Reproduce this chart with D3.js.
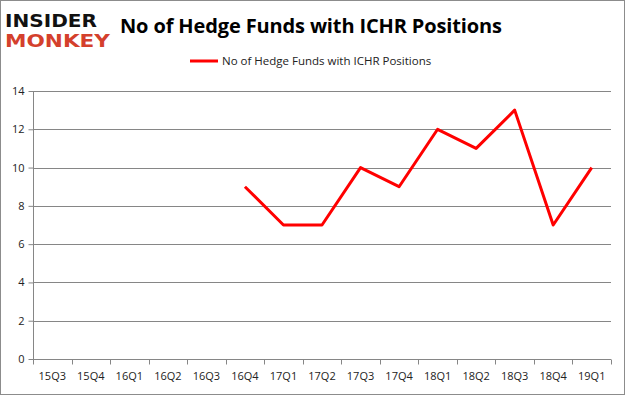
<!DOCTYPE html>
<html>
<head>
<meta charset="utf-8">
<script src="https://cdn.jsdelivr.net/npm/d3@7"></script>
<style>
  body { margin: 0; background: #fff; }
  svg { display: block; font-family: "Open Sans", "DejaVu Sans", sans-serif; }
</style>
</head>
<body>
<div id="chart"></div>
<script>
// chart data
const quarters = ["15Q3", "15Q4", "16Q1", "16Q2", "16Q3", "16Q4", "17Q1", "17Q2",
                  "17Q3", "17Q4", "18Q1", "18Q2", "18Q3", "18Q4", "19Q1"];
const funds = [null, null, null, null, null, 9, 7, 7, 10, 9, 12, 11, 13, 7, 10];
const yTicks = [0, 2, 4, 6, 8, 10, 12, 14];
const title = "No of Hedge Funds with ICHR Positions";

const width = 625, height = 395;
const margin = { top: 91, right: 14, bottom: 36, left: 33 };

const svg = d3.select("#chart").append("svg")
  .attr("width", width)
  .attr("height", height);

// outer frame
svg.append("rect")
  .attr("x", 0.5).attr("y", 0.5)
  .attr("width", width - 1).attr("height", height - 1)
  .attr("fill", "#fff")
  .attr("stroke", "#8c8c8c");

// logo
svg.append("text")
  .attr("x", 5).attr("y", 27)
  .attr("font-family", "DejaVu Sans, sans-serif")
  .attr("font-weight", "bold")
  .attr("font-size", 17)
  .attr("textLength", 92)
  .attr("lengthAdjust", "spacingAndGlyphs")
  .attr("fill", "#111")
  .text("INSIDER");
svg.append("text")
  .attr("x", 5).attr("y", 47)
  .attr("font-family", "DejaVu Sans, sans-serif")
  .attr("font-weight", "bold")
  .attr("font-size", 17)
  .attr("textLength", 105)
  .attr("lengthAdjust", "spacingAndGlyphs")
  .attr("fill", "#d4402c")
  .text("MONKEY");

// title
svg.append("text")
  .attr("x", 120).attr("y", 33)
  .attr("font-family", "Open Sans, sans-serif")
  .attr("font-weight", "bold")
  .attr("font-size", 20)
  .attr("textLength", 382)
  .attr("fill", "#000")
  .text(title);

// legend
const legend = svg.append("g").attr("transform", "translate(190,61)");
legend.append("line")
  .attr("x1", 0).attr("x2", 28)
  .attr("stroke", "#ff0000")
  .attr("stroke-width", 3);
legend.append("text")
  .attr("x", 32).attr("y", 4)
  .attr("font-size", 11.5)
  .attr("fill", "#222")
  .text(title);

const plotW = width - margin.left - margin.right;
const plotH = height - margin.top - margin.bottom;

const x = d3.scaleBand()
  .domain(quarters)
  .range([0, plotW]);

const y = d3.scaleLinear()
  .domain([0, 14])
  .range([plotH, 0]);

const g = svg.append("g")
  .attr("transform", "translate(" + margin.left + "," + margin.top + ")");

// grid lines
g.append("g")
  .selectAll("line")
  .data(yTicks.filter(d => d > 0))
  .enter().append("line")
  .attr("x1", 0).attr("x2", plotW)
  .attr("y1", d => Math.round(y(d)) + 0.5)
  .attr("y2", d => Math.round(y(d)) + 0.5)
  .attr("stroke", "#868686");

// y axis
const yAxis = g.append("g")
  .attr("transform", "translate(0.5,0)")
  .call(d3.axisLeft(y).tickValues(yTicks).tickSize(5).tickPadding(4));
yAxis.selectAll("line, path").attr("stroke", "#868686");
yAxis.selectAll("text").attr("font-size", 11).attr("fill", "#222")
  .attr("font-family", "Open Sans, sans-serif");
yAxis.select(".domain").attr("d", "M0," + plotH + "V0");

// x axis, ticks on band edges
const xAxis = g.append("g")
  .attr("transform", "translate(0," + (Math.round(plotH) + 0.5) + ")")
  .call(d3.axisBottom(x).tickSize(0).tickPadding(13));
xAxis.select(".domain").attr("stroke", "#868686").attr("d", "M0,0H" + plotW);
xAxis.selectAll("text").attr("font-size", 11).attr("fill", "#222")
  .attr("font-family", "Open Sans, sans-serif");
xAxis.append("g")
  .selectAll("line")
  .data(quarters.concat(["end"]))
  .enter().append("line")
  .attr("x1", (d, i) => Math.round(i * x.step()) + 0.5)
  .attr("x2", (d, i) => Math.round(i * x.step()) + 0.5)
  .attr("y1", 0).attr("y2", 5)
  .attr("stroke", "#868686");

// line
const points = quarters.map((q, i) => ({ q: q, v: funds[i] }));
const line = d3.line()
  .defined(d => d.v !== null)
  .x(d => x(d.q) + x.bandwidth() / 2)
  .y(d => y(d.v));

g.append("path")
  .datum(points)
  .attr("fill", "none")
  .attr("stroke", "#ff0000")
  .attr("stroke-width", 3)
  .attr("stroke-linejoin", "round")
  .attr("d", line);
</script>
</body>
</html>
